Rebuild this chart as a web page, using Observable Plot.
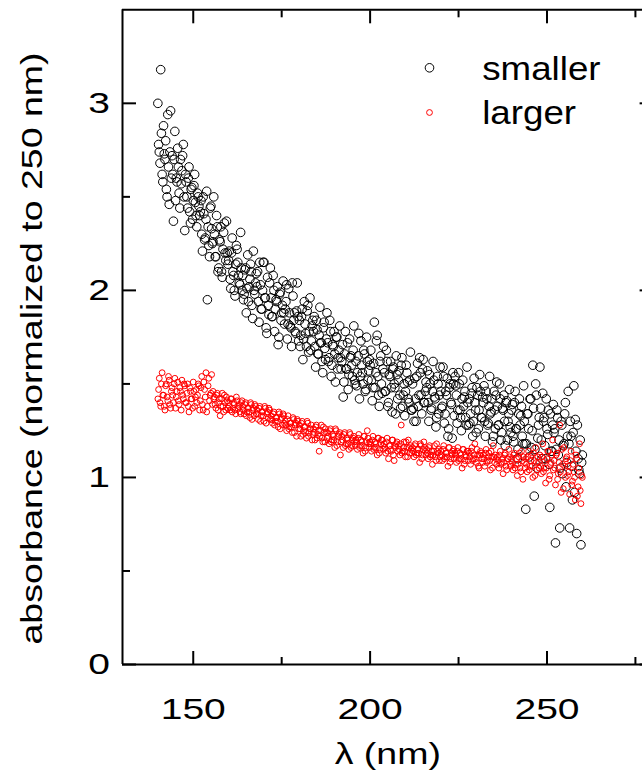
<!DOCTYPE html>
<html>
<head>
<meta charset="utf-8">
<script src="https://cdn.jsdelivr.net/npm/d3@7"></script>
<script src="https://cdn.jsdelivr.net/npm/@observablehq/plot@0.6"></script>
<style>
  html, body { margin: 0; padding: 0; background: #fff; }
  #chart svg { display: block; }
</style>
</head>
<body>
<div id="chart"></div>
<script>
// wavelength grid of the measurement (nm)
const lambdaStart = 140, lambdaStep = 0.2;

// absorbance (normalized to 250 nm), "smaller" series, 140 ... 260 nm (one row = 4 nm)
const smallerAbs = [
  3.00, 2.78, 2.74, 2.68, 3.18, 2.84, 2.62, 2.58, 2.88, 2.73, 2.70, 2.80, 2.54, 2.50, 2.94, 2.66, 2.46, 2.74, 2.96, 2.60,
  2.72, 2.62, 2.37, 2.70, 2.85, 2.48, 2.60, 2.58, 2.76, 2.66, 2.52, 2.44, 2.70, 2.57, 2.64, 2.72, 2.78, 2.50, 2.32, 2.62,
  2.58, 2.50, 2.44, 2.60, 2.66, 2.42, 2.36, 2.54, 2.55, 2.38, 2.48, 2.56, 2.62, 2.47, 2.40, 2.34, 2.52, 2.50, 2.45, 2.40,
  2.42, 2.48, 2.30, 2.21, 2.50, 2.41, 2.27, 2.28, 2.38, 2.53, 1.95, 2.34, 2.24, 2.18, 2.44, 2.45, 2.33, 2.25, 2.26, 2.50,
  2.30, 2.18, 2.18, 2.40, 2.34, 2.10, 2.12, 2.27, 2.26, 2.34, 2.10, 2.07, 2.22, 2.31, 2.36, 2.20, 2.16, 2.37, 2.20, 2.14,
  2.16, 2.21, 2.06, 2.01, 2.20, 2.28, 2.10, 2.08, 2.00, 1.97, 2.14, 2.24, 2.22, 2.15, 2.08, 2.04, 2.03, 2.31, 2.12, 2.00,
  2.08, 1.95, 1.98, 2.11, 2.12, 1.88, 2.01, 2.19, 1.94, 2.02, 2.06, 2.14, 2.10, 1.92, 1.85, 2.21, 2.00, 1.98, 2.04, 2.09,
  2.02, 2.10, 1.94, 1.83, 2.15, 2.03, 1.90, 1.90, 2.00, 2.15, 2.15, 1.96, 1.96, 1.80, 1.77, 2.07, 1.92, 1.87, 2.04, 2.12,
  1.96, 1.86, 1.86, 2.08, 2.00, 1.78, 1.90, 1.95, 1.94, 2.02, 1.71, 1.75, 1.98, 1.99, 1.84, 1.88, 1.92, 2.05, 1.88, 1.82,
  1.90, 1.94, 2.03, 1.74, 1.82, 2.01, 1.88, 1.81, 1.80, 1.70, 2.04, 1.97, 1.84, 1.88, 1.78, 1.77, 1.89, 2.04, 1.86, 1.73,
  1.84, 1.70, 1.76, 1.86, 1.90, 1.63, 1.74, 1.94, 1.82, 1.77, 1.70, 1.89, 1.92, 1.67, 1.78, 1.96, 1.68, 1.73, 1.81, 1.84,
  1.78, 1.86, 1.70, 1.59, 1.84, 1.79, 1.66, 1.66, 1.76, 1.91, 1.72, 1.72, 1.62, 1.56, 1.80, 1.83, 1.69, 1.63, 1.74, 1.88,
  1.72, 1.62, 1.64, 1.84, 1.78, 1.54, 1.60, 1.71, 1.70, 1.78, 1.66, 1.51, 1.75, 1.75, 1.58, 1.64, 1.68, 1.81, 1.64, 1.58,
  1.62, 1.71, 1.43, 1.51, 1.66, 1.78, 1.58, 1.58, 1.72, 1.47, 1.55, 1.74, 1.64, 1.65, 1.60, 1.54, 1.68, 1.81, 1.52, 1.50,
  1.62, 1.49, 1.56, 1.65, 1.77, 1.42, 1.54, 1.73, 1.60, 1.56, 1.50, 1.68, 1.66, 1.46, 1.47, 1.75, 1.62, 1.52, 1.57, 1.63,
  1.60, 1.68, 1.52, 1.41, 1.48, 1.61, 1.83, 1.48, 1.56, 1.73, 1.76, 1.54, 1.44, 1.38, 1.62, 1.65, 1.50, 1.45, 1.58, 1.70,
  1.56, 1.46, 1.46, 1.68, 1.62, 1.38, 1.40, 1.55, 1.54, 1.62, 1.48, 1.35, 1.58, 1.59, 1.50, 1.48, 1.34, 1.65, 1.55, 1.42,
  1.52, 1.57, 1.44, 1.37, 1.60, 1.64, 1.38, 1.44, 1.50, 1.33, 1.46, 1.60, 1.56, 1.51, 1.42, 1.40, 1.52, 1.67, 1.36, 1.36,
  1.50, 1.37, 1.30, 1.53, 1.42, 1.30, 1.54, 1.61, 1.38, 1.44, 1.64, 1.56, 1.44, 1.34, 1.58, 1.63, 1.40, 1.40, 1.46, 1.51,
  1.48, 1.57, 1.40, 1.30, 1.55, 1.50, 1.36, 1.37, 1.46, 1.62, 1.52, 1.43, 1.42, 1.27, 1.32, 1.54, 1.50, 1.34, 1.44, 1.59,
  1.46, 1.37, 1.38, 1.59, 1.54, 1.29, 1.34, 1.46, 1.44, 1.53, 1.22, 1.26, 1.48, 1.50, 1.40, 1.39, 1.21, 1.56, 1.50, 1.33,
  1.54, 1.49, 1.44, 1.29, 1.36, 1.56, 1.50, 1.36, 1.32, 1.25, 1.42, 1.52, 1.38, 1.43, 1.46, 1.32, 1.28, 1.59, 1.40, 1.28,
  1.42, 1.29, 1.34, 1.45, 1.48, 1.22, 1.30, 1.53, 1.40, 1.36, 1.24, 1.48, 1.44, 1.26, 1.36, 1.55, 1.46, 1.32, 1.32, 1.43,
  1.40, 1.49, 1.30, 1.22, 1.46, 1.42, 1.28, 1.29, 1.38, 1.54, 1.34, 1.35, 1.42, 1.19, 1.22, 1.46, 1.36, 1.26, 1.44, 1.51,
  1.38, 1.28, 1.28, 1.50, 1.42, 1.20, 1.24, 1.37, 1.36, 1.44, 1.30, 1.17, 1.40, 1.41, 1.20, 1.30, 1.34, 1.47, 1.27, 1.24,
  1.36, 1.39, 1.22, 1.19, 1.40, 1.46, 1.26, 1.26, 1.10, 1.15, 1.34, 1.42, 1.28, 1.33, 1.38, 1.22, 1.18, 1.49, 1.30, 1.18,
  0.83, 1.18, 1.34, 1.34, 1.26, 1.11, 1.42, 1.42, 1.16, 1.25, 1.60, 1.37, 0.90, 1.15, 1.50, 1.44, 1.05, 1.21, 1.28, 1.32,
  1.59, 1.37, 1.20, 1.10, 1.45, 1.30, 1.32, 1.17, 1.10, 1.42, 1.26, 1.23, 1.36, 1.07, 0.84, 1.34, 1.14, 1.14, 1.28, 1.39,
  1.24, 1.26, 0.65, 1.15, 1.36, 1.32, 1.12, 1.20, 0.73, 1.05, 1.30, 1.28, 1.02, 1.17, 1.18, 1.34, 1.40, 0.95, 1.08, 1.22,
  1.46, 1.18, 0.73, 1.30, 1.22, 1.06, 0.88, 1.24, 1.49, 0.92, 1.31, 1.14, 0.70, 1.28, 1.10, 1.04, 1.02, 1.20, 0.64, 1.08,
  1.12
];

// absorbance (normalized to 250 nm), "larger" series, 140 ... 260 nm (one row = 4 nm)
const largerAbs = [
  1.42, 1.47, 1.53, 1.40, 1.38, 1.50, 1.56, 1.44, 1.44, 1.38, 1.36, 1.49, 1.50, 1.43, 1.41, 1.54, 1.52, 1.39, 1.37, 1.46,
  1.48, 1.44, 1.40, 1.50, 1.53, 1.37, 1.43, 1.46, 1.51, 1.41, 1.39, 1.48, 1.46, 1.36, 1.52, 1.44, 1.42, 1.50, 1.49, 1.40,
  1.40, 1.45, 1.50, 1.38, 1.35, 1.48, 1.46, 1.42, 1.42, 1.37, 1.51, 1.46, 1.38, 1.43, 1.47, 1.40, 1.44, 1.50, 1.49, 1.36,
  1.41, 1.48, 1.54, 1.39, 1.36, 1.51, 1.47, 1.43, 1.56, 1.35, 1.38, 1.49, 1.53, 1.41, 1.44, 1.45, 1.55, 1.39, 1.46, 1.42,
  1.43, 1.39, 1.37, 1.44, 1.45, 1.36, 1.40, 1.42, 1.33, 1.38, 1.42, 1.45, 1.38, 1.35, 1.44, 1.40, 1.36, 1.43, 1.41, 1.37,
  1.40, 1.38, 1.36, 1.42, 1.42, 1.35, 1.37, 1.40, 1.39, 1.36, 1.34, 1.43, 1.41, 1.37, 1.38, 1.39, 1.35, 1.34, 1.40, 1.41,
  1.38, 1.36, 1.34, 1.39, 1.40, 1.33, 1.35, 1.37, 1.37, 1.35, 1.32, 1.40, 1.39, 1.31, 1.36, 1.37, 1.33, 1.39, 1.38, 1.34,
  1.36, 1.34, 1.31, 1.37, 1.38, 1.30, 1.33, 1.35, 1.35, 1.33, 1.30, 1.38, 1.37, 1.29, 1.34, 1.35, 1.32, 1.37, 1.36, 1.31,
  1.33, 1.31, 1.29, 1.34, 1.35, 1.28, 1.30, 1.32, 1.32, 1.30, 1.27, 1.35, 1.34, 1.26, 1.31, 1.32, 1.28, 1.34, 1.33, 1.29,
  1.30, 1.28, 1.25, 1.31, 1.33, 1.26, 1.27, 1.29, 1.29, 1.27, 1.24, 1.32, 1.31, 1.24, 1.28, 1.29, 1.22, 1.31, 1.30, 1.26,
  1.28, 1.26, 1.22, 1.29, 1.30, 1.23, 1.25, 1.27, 1.27, 1.24, 1.21, 1.30, 1.29, 1.22, 1.24, 1.26, 1.26, 1.28, 1.20, 1.23,
  1.26, 1.24, 1.20, 1.27, 1.28, 1.21, 1.23, 1.25, 1.14, 1.22, 1.25, 1.28, 1.21, 1.19, 1.27, 1.24, 1.19, 1.26, 1.24, 1.21,
  1.24, 1.22, 1.18, 1.25, 1.26, 1.19, 1.20, 1.23, 1.22, 1.20, 1.16, 1.26, 1.25, 1.17, 1.19, 1.22, 1.23, 1.24, 1.12, 1.19,
  1.22, 1.20, 1.16, 1.23, 1.24, 1.17, 1.18, 1.21, 1.20, 1.18, 1.15, 1.24, 1.23, 1.16, 1.17, 1.20, 1.21, 1.22, 1.19, 1.17,
  1.20, 1.19, 1.15, 1.21, 1.23, 1.16, 1.17, 1.20, 1.19, 1.17, 1.13, 1.22, 1.22, 1.14, 1.16, 1.19, 1.25, 1.21, 1.18, 1.16,
  1.19, 1.18, 1.14, 1.20, 1.22, 1.15, 1.16, 1.19, 1.18, 1.16, 1.12, 1.21, 1.21, 1.13, 1.15, 1.18, 1.20, 1.20, 1.17, 1.15,
  1.18, 1.16, 1.13, 1.19, 1.21, 1.14, 1.10, 1.17, 1.17, 1.15, 1.14, 1.20, 1.20, 1.12, 1.09, 1.17, 1.16, 1.18, 1.19, 1.14,
  1.17, 1.15, 1.12, 1.18, 1.28, 1.13, 1.14, 1.16, 1.19, 1.14, 1.11, 1.19, 1.16, 1.11, 1.20, 1.16, 1.13, 1.17, 1.15, 1.13,
  1.16, 1.14, 1.11, 1.17, 1.18, 1.12, 1.13, 1.15, 1.15, 1.13, 1.08, 1.18, 1.17, 1.10, 1.12, 1.15, 1.19, 1.16, 1.14, 1.12,
  1.15, 1.13, 1.10, 1.16, 1.17, 1.11, 1.12, 1.14, 1.07, 1.12, 1.14, 1.17, 1.11, 1.09, 1.18, 1.14, 1.13, 1.15, 1.09, 1.11,
  1.14, 1.12, 1.09, 1.15, 1.17, 1.10, 1.11, 1.13, 1.13, 1.11, 1.06, 1.16, 1.16, 1.08, 1.10, 1.13, 1.12, 1.14, 1.15, 1.10,
  1.13, 1.12, 1.08, 1.14, 1.16, 1.09, 1.10, 1.13, 1.12, 1.10, 1.05, 1.15, 1.15, 1.07, 1.09, 1.12, 1.11, 1.14, 1.14, 1.09,
  1.13, 1.11, 1.07, 1.14, 1.16, 1.09, 1.10, 1.12, 1.18, 1.10, 1.08, 1.15, 1.12, 1.06, 1.05, 1.12, 1.14, 1.13, 1.10, 1.08,
  1.12, 1.10, 1.06, 1.13, 1.15, 1.08, 1.09, 1.11, 1.13, 1.09, 1.04, 1.14, 1.11, 1.05, 1.17, 1.11, 1.08, 1.12, 1.10, 1.07,
  1.11, 1.09, 1.05, 1.12, 1.14, 1.07, 1.08, 1.10, 1.02, 1.08, 1.12, 1.13, 1.06, 1.04, 1.10, 1.10, 1.15, 1.11, 1.07, 1.06,
  1.10, 1.08, 1.04, 1.12, 1.13, 1.05, 1.07, 1.10, 1.01, 1.07, 1.11, 1.13, 1.05, 1.03, 1.14, 1.09, 0.99, 1.11, 1.08, 1.05,
  1.10, 1.07, 1.03, 1.11, 1.14, 1.04, 1.06, 1.09, 1.12, 1.06, 1.00, 1.13, 1.09, 1.01, 1.16, 1.08, 1.04, 1.11, 1.08, 1.05,
  1.12, 1.06, 1.02, 1.11, 1.18, 1.03, 1.05, 1.09, 0.97, 1.05, 1.10, 1.14, 1.14, 0.99, 1.01, 1.07, 1.08, 1.12, 1.20, 1.04,
  1.09, 1.05, 0.96, 1.12, 1.13, 0.99, 1.02, 1.08, 1.28, 1.03, 0.92, 1.15, 1.07, 0.94, 1.16, 1.06, 1.00, 1.10, 1.11, 1.01,
  1.06, 1.03, 0.91, 1.09, 1.14, 0.96, 0.98, 1.07, 1.03, 1.00, 0.88, 1.12, 1.10, 0.90, 0.95, 1.05, 1.18, 0.93, 0.86, 1.01,
  1.00
];

const seriesNames = ["smaller", "larger"];
const seriesColors = ["#000000", "#ff0000"];
const xMajorTicks = [150, 200, 250];
const xMinorTicks = [175, 225, 275];
const yMajorTicks = [0, 1, 2, 3];
const yMinorTicks = [0.5, 1.5, 2.5];
const xDomain = [130, 280];
const yDomain = [0, 3.5];
const xTitle = "λ (nm)";
const yTitle = "absorbance (normalized to 250 nm)";

const toRows = (values, name) => values.map((v, i) => ({series: name, lambda: lambdaStart + i * lambdaStep, absorbance: v}));
const smallerRows = toRows(smallerAbs, seriesNames[0]);
const largerRows = toRows(largerAbs, seriesNames[1]);

const frameStroke = 2;
const legendDy = [58, 102.7];
const legendTextDy = [59.1, 103.8];
const dotR = [4.3, 2.9];

const chart = Plot.plot({
  width: 642,
  height: 776,
  marginLeft: 122,
  marginRight: -10.6,
  marginTop: 9.3,
  marginBottom: 112,
  style: {fontFamily: "'Liberation Sans', Arial, sans-serif", background: "#fff", color: "#000"},
  x: {domain: xDomain, axis: null},
  y: {domain: yDomain, axis: null},
  marks: [
    Plot.dot(smallerRows, {x: "lambda", y: "absorbance", r: dotR[0], stroke: seriesColors[0], strokeWidth: 1, fill: "none"}),
    Plot.dot(largerRows, {x: "lambda", y: "absorbance", r: dotR[1], stroke: seriesColors[1], strokeWidth: 1, fill: "none"}),
    // frame
    Plot.ruleY(yDomain, {stroke: "#000", strokeWidth: frameStroke}),
    Plot.ruleX(xDomain, {stroke: "#000", strokeWidth: frameStroke}),
    // inward ticks
    Plot.axisX(xMajorTicks, {anchor: "bottom", tickSize: -13, strokeWidth: 2, fill: "none", label: null}),
    Plot.axisX(xMinorTicks, {anchor: "bottom", tickSize: -7, strokeWidth: 2, fill: "none", label: null}),
    Plot.axisX(xMajorTicks, {anchor: "top", tickSize: -13, strokeWidth: 2, fill: "none", label: null}),
    Plot.axisX(xMinorTicks, {anchor: "top", tickSize: -7, strokeWidth: 2, fill: "none", label: null}),
    Plot.axisY(yMajorTicks, {anchor: "left", tickSize: -14, strokeWidth: 2, fill: "none", label: null}),
    Plot.axisY(yMinorTicks, {anchor: "left", tickSize: -8, strokeWidth: 2, fill: "none", label: null}),
    Plot.axisY(yMajorTicks, {anchor: "right", tickSize: -14, strokeWidth: 2, fill: "none", label: null}),
    Plot.axisY(yMinorTicks, {anchor: "right", tickSize: -8, strokeWidth: 2, fill: "none", label: null}),
    // tick labels
    Plot.axisX(xMajorTicks, {anchor: "bottom", tickSize: 0, tickPadding: 32.7, fontSize: 30, label: null, tickFormat: d => `${d}`}),
    Plot.axisY(yMajorTicks, {anchor: "left", tickSize: 0, tickPadding: 12.5, fontSize: 30, label: null, tickFormat: d => `${d}`}),
    // axis titles
    Plot.text([xTitle], {frameAnchor: "bottom", textAnchor: "middle", lineAnchor: "middle", dy: 89.4, fontSize: 30}),
    Plot.text([yTitle], {frameAnchor: "left", rotate: -90, textAnchor: "middle", lineAnchor: "middle", dx: -89.9, dy: 11.35, fontSize: 30}),
    // legend
    ...seriesNames.flatMap((name, i) => [
      Plot.dot([name], {frameAnchor: "top-left", dx: 307, dy: legendDy[i], r: dotR[i], stroke: seriesColors[i], strokeWidth: 1, fill: "none"}),
      Plot.text([name], {frameAnchor: "top-left", textAnchor: "start", lineAnchor: "middle", dx: 359.7, dy: legendTextDy[i], fontSize: 34})
    ])
  ]
});

document.getElementById("chart").append(chart);

// the reference lettering is horizontally wide; stretch glyphs to match
chart.querySelectorAll("text").forEach(t => {
  const g = t.closest("g[aria-label]");
  const label = g ? g.getAttribute("aria-label") : "";
  let f = 1.25;
  if (/tick label/.test(label)) f = 1.3;
  else if (seriesNames.includes(t.textContent)) f = 1.08;
  const len = t.getComputedTextLength();
  if (len > 0) {
    t.setAttribute("textLength", (len * f).toFixed(2));
    t.setAttribute("lengthAdjust", "spacingAndGlyphs");
  }
});
</script>
</body>
</html>
